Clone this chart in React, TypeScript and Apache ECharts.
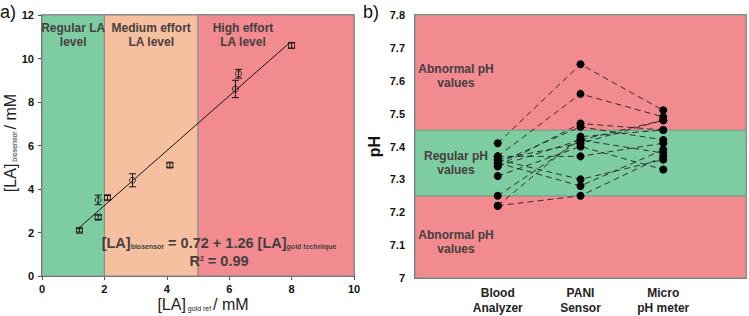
import React, { useEffect, useRef } from "react";
import * as echarts from "echarts";

// ---------- Panel a data ----------
const squarePts = [
  [1.2, 2.1, 0.08],
  [1.8, 2.7, 0.1],
  [2.1, 3.6, 0.1],
  [4.1, 5.1, 0.1],
  [8.0, 10.6, 0.12],
];
const circlePts = [
  [1.8, 3.5, 0.22],
  [2.9, 4.4, 0.3],
  [6.2, 8.6, 0.4],
  [6.3, 9.3, 0.2],
];
const fitLine = [
  [1.15, 2.17],
  [7.95, 10.74],
];
const laZones = [
  { from: 0, to: 2, color: "#7ecda2", label: "Regular LA\nlevel", offset: 0 },
  { from: 2, to: 5, color: "#f6c0a0", label: "Medium effort\nLA level", offset: 0 },
  { from: 5, to: 10, color: "#f28b8f", label: "High effort\nLA level", offset: -33 },
];
const xTicksA = [0, 10, 2];
const yTicksA = [0, 12, 2];

// ---------- Panel b data ----------
const deviceCategories = ["", "", "Blood\nAnalyzer", "", "PANI\nSensor", "", "Micro\npH meter", "", ""];
const devicePositions = [2, 4, 6];
const bloodAnalyzer = [7.41, 7.37, 7.22, 7.25, 7.22, 7.35, 7.36, 7.34, 7.35, 7.36, 7.31, 7.37, 7.34];
const paniSensor = [7.65, 7.56, 7.25, 7.42, 7.43, 7.28, 7.3, 7.47, 7.46, 7.41, 7.4, 7.37, 7.42];
const microPH = [7.51, 7.49, 7.37, 7.48, 7.45, 7.39, 7.36, 7.45, 7.42, 7.48, 7.33, 7.41, 7.38];
const phBands = [
  { from: 7.0, to: 7.25, color: "#f28b8f" },
  { from: 7.25, to: 7.45, color: "#7ecda2" },
  { from: 7.45, to: 7.8, color: "#f28b8f" },
];
const phLabels = ["Abnormal pH\nvalues", "Regular pH\nvalues", "Abnormal pH\nvalues"];

const FONT = "Liberation Sans, Arial, sans-serif";
const TXT = "#463f3f";

export default function App() {
  const ref = useRef<HTMLDivElement>(null);
  useEffect(() => {
    if (!ref.current) return;
    const chart = echarts.init(ref.current, null, { renderer: "svg" });

    const errBar = (pts: number[][], gridIdx: number) => ({
      type: "custom",
      xAxisIndex: gridIdx,
      yAxisIndex: gridIdx,
      data: pts,
      z: 4,
      renderItem: (params: any, api: any) => {
        const x = api.value(0);
        const y = api.value(1);
        const e = api.value(2);
        const top = api.coord([x, y + e]);
        const bot = api.coord([x, y - e]);
        const w = 3.5;
        const st = { stroke: "#111", lineWidth: 1 };
        return {
          type: "group",
          children: [
            { type: "line", shape: { x1: top[0], y1: top[1], x2: bot[0], y2: bot[1] }, style: st },
            { type: "line", shape: { x1: top[0] - w, y1: top[1], x2: top[0] + w, y2: top[1] }, style: st },
            { type: "line", shape: { x1: bot[0] - w, y1: bot[1], x2: bot[0] + w, y2: bot[1] }, style: st },
          ],
        };
      },
    });

    const subjectSeries = bloodAnalyzer.map((ba, i) => ({
      type: "line",
      xAxisIndex: 1,
      yAxisIndex: 1,
      data: [
        [devicePositions[0], ba],
        [devicePositions[1], paniSensor[i]],
        [devicePositions[2], microPH[i]],
      ],
      symbol: "circle",
      symbolSize: 8,
      itemStyle: { color: "#000" },
      lineStyle: { color: "#222", width: 0.9, type: [6, 4] },
      z: 5,
    }));

    const labelStyle = {
      align: "center",
      verticalAlign: "middle",
      fontSize: 12,
      fontWeight: "bold",
      fill: TXT,
      lineHeight: 14,
      fontFamily: FONT,
    };

    const eqRich = {
      a: { fontSize: 14.5, fontWeight: "bold", fill: TXT, color: TXT, lineHeight: 13, fontFamily: FONT },
      s: { fontSize: 7, fontWeight: "bold", fill: TXT, color: TXT, lineHeight: 7, verticalAlign: "bottom", fontFamily: FONT },
      p: { fontSize: 7, fontWeight: "bold", fill: TXT, color: TXT, lineHeight: 7, verticalAlign: "top", fontFamily: FONT },
    };

    const nameRich = {
      a: { fontSize: 16, fill: "#222", color: "#222", lineHeight: 15, fontFamily: FONT },
      s: { fontSize: 7, fill: "#222", color: "#222", lineHeight: 7, verticalAlign: "bottom", fontFamily: FONT },
    };

    const option: any = {
      animation: false,
      textStyle: { fontFamily: FONT },
      grid: [
        { left: 42, top: 15, width: 312, height: 261, show: true, borderColor: "#6a6a6a", borderWidth: 1.5, backgroundColor: "transparent" },
        { left: 415, top: 15, width: 332, height: 263, show: true, borderColor: "#6a6a6a", borderWidth: 1.5, backgroundColor: "transparent" },
      ],
      xAxis: [
        {
          type: "value",
          gridIndex: 0,
          min: xTicksA[0],
          max: xTicksA[1],
          interval: xTicksA[2],
          axisLine: { lineStyle: { color: "#555", width: 1.5 } },
          axisTick: { show: true, inside: false, length: 4, lineStyle: { color: "#555" } },
          axisLabel: { color: "#111", fontSize: 11, fontWeight: "bold", margin: 7 },
          splitLine: { show: false },
        },
        {
          type: "category",
          gridIndex: 1,
          data: deviceCategories.map((_, i) => String(i)),
          boundaryGap: false,
          axisLine: { lineStyle: { color: "#555", width: 1.5 } },
          axisTick: { show: true, inside: true, length: 4, interval: (i: number) => i % 2 === 1, lineStyle: { color: "#555" } },
          axisLabel: {
            interval: 0,
            formatter: (v: string) => deviceCategories[Number(v)],
            color: "#222",
            fontSize: 12,
            fontWeight: "bold",
            lineHeight: 15,
            margin: 7,
          },
          splitLine: { show: false },
        },
      ],
      yAxis: [
        {
          type: "value",
          gridIndex: 0,
          min: yTicksA[0],
          max: yTicksA[1],
          interval: yTicksA[2],
          axisLine: { show: true, lineStyle: { color: "#555", width: 1.5 } },
          axisTick: { show: true, inside: false, length: 4, lineStyle: { color: "#555" } },
          axisLabel: { color: "#111", fontSize: 11, fontWeight: "bold", margin: 8 },
          splitLine: { show: false },
        },
        {
          type: "value",
          gridIndex: 1,
          min: 7.0,
          max: 7.8,
          interval: 0.1,
          axisLine: { show: true, lineStyle: { color: "#555", width: 1.5 } },
          axisTick: { show: true, inside: true, length: 4, lineStyle: { color: "#555" } },
          axisLabel: {
            color: "#111",
            fontSize: 11,
            fontWeight: "bold",
            margin: 10,
            formatter: (v: number) => String(Math.round(v * 10) / 10),
          },
          splitLine: { show: false },
          name: "pH",
          nameLocation: "middle",
          nameGap: 33,
          nameTextStyle: { fontSize: 16, fontWeight: "bold", color: "#111" },
        },
      ],
      series: [
        {
          type: "line",
          xAxisIndex: 0,
          yAxisIndex: 0,
          data: [],
          markArea: {
            silent: true,
            data: laZones.map((z) => [
              {
                xAxis: z.from,
                itemStyle: { color: z.color, borderColor: "#8a8a8a", borderWidth: 1 },
                label: {
                  show: true,
                  position: "insideTop",
                  offset: [z.offset, 0],
                  formatter: z.label,
                  color: TXT,
                  fontSize: 12,
                  fontWeight: "bold",
                  lineHeight: 14,
                  distance: 6,
                },
              },
              { xAxis: z.to },
            ]),
          },
          z: 1,
        },
        {
          type: "line",
          xAxisIndex: 0,
          yAxisIndex: 0,
          data: fitLine,
          symbol: "none",
          lineStyle: { color: "#111", width: 1 },
          z: 3,
        },
        errBar(squarePts, 0),
        errBar(circlePts, 0),
        {
          type: "scatter",
          xAxisIndex: 0,
          yAxisIndex: 0,
          data: squarePts.map((p) => [p[0], p[1]]),
          symbol: "rect",
          symbolSize: 6,
          itemStyle: { color: "transparent", borderColor: "#111", borderWidth: 1 },
          z: 5,
        },
        {
          type: "scatter",
          xAxisIndex: 0,
          yAxisIndex: 0,
          data: circlePts.map((p) => [p[0], p[1]]),
          symbol: "circle",
          symbolSize: 6,
          itemStyle: { color: "transparent", borderColor: "#111", borderWidth: 1 },
          z: 5,
        },
        {
          type: "line",
          xAxisIndex: 1,
          yAxisIndex: 1,
          data: [],
          markArea: {
            silent: true,
            data: phBands.map((b) => [
              { yAxis: b.from, itemStyle: { color: b.color, borderColor: "#7a9a86", borderWidth: 1 } },
              { yAxis: b.to },
            ]),
          },
          z: 1,
        },
        ...subjectSeries,
      ],
      graphic: [
        { type: "text", left: 0, top: 3, style: { text: "a)", fontSize: 18, fill: "#111", fontFamily: FONT } },
        { type: "text", left: 363, top: 3, style: { text: "b)", fontSize: 18, fill: "#111", fontFamily: FONT } },
        { type: "text", x: 456, y: 76, style: { ...labelStyle, text: phLabels[0] }, z: 10 },
        { type: "text", x: 456, y: 163, style: { ...labelStyle, text: phLabels[1] }, z: 10 },
        { type: "text", x: 456, y: 242, style: { ...labelStyle, text: phLabels[2] }, z: 10 },
        {
          type: "text",
          x: 219,
          y: 243,
          z: 10,
          style: {
            text: "{a|[LA]}{s|biosensor}{a| = 0.72 + 1.26 [LA]}{s|gold technique}",
            align: "center",
            verticalAlign: "middle",
            fontFamily: FONT,
            rich: eqRich,
          },
        },
        {
          type: "text",
          x: 219,
          y: 261,
          z: 10,
          style: {
            text: "{a|R}{p|2}{a| = 0.99}",
            align: "center",
            verticalAlign: "middle",
            fontFamily: FONT,
            rich: eqRich,
          },
        },
        {
          type: "text",
          x: 203,
          y: 304,
          z: 10,
          style: {
            text: "{a|[LA]}{s| gold ref }{a|/ mM}",
            align: "center",
            verticalAlign: "middle",
            fontFamily: FONT,
            rich: nameRich,
          },
        },
        {
          type: "text",
          x: 10,
          y: 143,
          rotation: Math.PI / 2,
          z: 10,
          style: {
            text: "{a|[LA]}{s| biosensor }{a|/ mM}",
            align: "center",
            verticalAlign: "middle",
            fontFamily: FONT,
            rich: nameRich,
          },
        },
      ],
    };
    chart.setOption(option);
    return () => chart.dispose();
  }, []);
  return (
    <div
      ref={ref}
      style={{ position: "fixed", left: 0, top: 0, width: 749, height: 316, background: "#fff" }}
    />
  );
}
